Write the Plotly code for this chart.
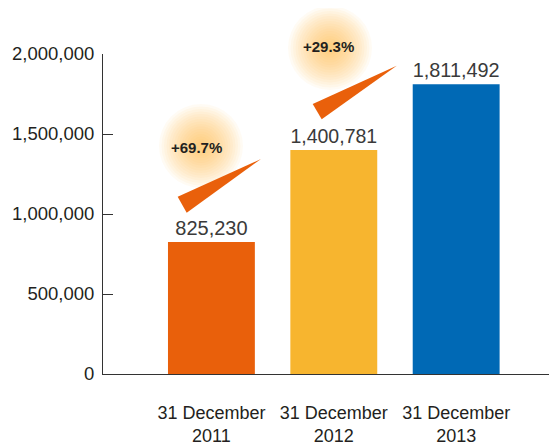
import plotly.graph_objects as go

categories = ["31 December<br>2011", "31 December<br>2012", "31 December<br>2013"]
values = [825230, 1400781, 1811492]
growth_labels = ["+69.7%", "+29.3%"]
bar_colors = ["#E9600B", "#F7B52F", "#0069B5"]
y_ticks = [0, 500000, 1000000, 1500000, 2000000]

OFF = 8  # page body margin
W, H = 557 - OFF, 447 - OFF
ML, MR, MT, MB = 103 - OFF, 0, 54 - OFF, 73
PW, PH = W - ML - MR, H - MT - MB

def px(xp):
    return (xp - OFF - ML) / PW

def py(yp):
    return (H - MB - (yp - OFF)) / PH

fig = go.Figure()
fig.add_trace(go.Bar(
    x=[0, 1, 2], y=values,
    marker=dict(color=bar_colors, line=dict(width=0)),
    width=0.71,
    text=[f"{v:,}" for v in values],
    textposition="outside",
    textfont=dict(family="Liberation Sans", size=20, color="#3a3a3a"),
    cliponaxis=False,
))

shapes = []
glows = [(201, 146), (330, 48)]
for (cx, cy) in glows:
    n = 16
    for i in range(n):
        r = 42 - i * 2.5
        shapes.append(dict(
            type="circle", xref="paper", yref="paper",
            xsizemode="pixel", ysizemode="pixel",
            xanchor=px(cx), yanchor=py(cy),
            x0=-r, x1=r, y0=-r, y1=r,
            fillcolor="#F7B844", opacity=0.06, line=dict(width=0), layer="below",
        ))

wedges = [
    [(177.7, 196.7), (186.7, 212.7), (261, 159)],
    [(312.7, 104), (321.7, 119.3), (396.7, 65.7)],
]
for pts in wedges:
    path = "M " + " L ".join(f"{px(a)},{py(b)}" for a, b in pts) + " Z"
    shapes.append(dict(type="path", xref="paper", yref="paper", path=path,
                       fillcolor="#E9600B", line=dict(width=0), layer="above"))

annotations = []
for (cx, cy), lab in zip([(196, 147), (328, 47)], growth_labels):
    annotations.append(dict(
        x=px(cx), y=py(cy), xref="paper", yref="paper", text=f"<b>{lab}</b>",
        xanchor="center", yanchor="middle",
        showarrow=False, font=dict(family="Liberation Sans", size=15, color="#231f20"),
    ))

fig.update_layout(
    width=W, height=H,
    margin=dict(l=ML, r=MR, t=MT, b=MB, autoexpand=False),
    paper_bgcolor="white", plot_bgcolor="white",
    showlegend=False,
    shapes=shapes, annotations=annotations,
    xaxis=dict(
        tickmode="array", tickvals=[0, 1, 2], ticktext=categories,
        range=[-0.886, 2.824], tickangle=0,
        showline=True, linecolor="#333333", linewidth=1,
        ticks="", showgrid=False, zeroline=False,
        tickfont=dict(family="Liberation Sans", size=18, color="#231f20"),
        ticklabelstandoff=22,
    ),
    yaxis=dict(
        range=[0, 2000000], tickvals=y_ticks,
        ticktext=[f"{v:,}" for v in y_ticks],
        showline=True, linecolor="#333333", linewidth=1,
        ticks="inside", ticklen=10, tickcolor="#333333",
        showgrid=False, zeroline=False,
        tickfont=dict(family="Liberation Sans", size=18.5, color="#231f20"),
        ticklabelstandoff=4,
    ),
)

fig.write_html("out.html")
